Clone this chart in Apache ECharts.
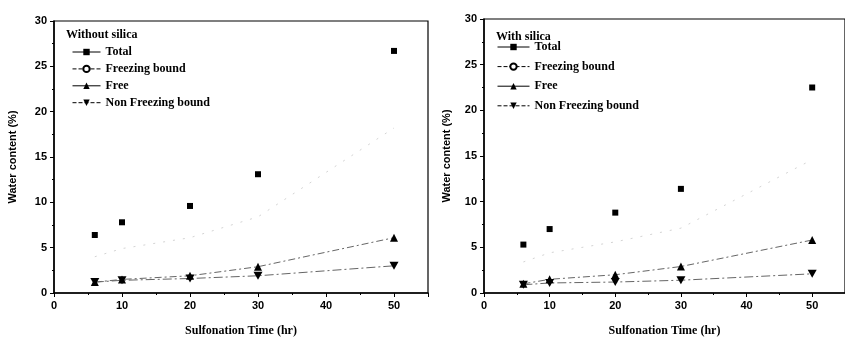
<!DOCTYPE html>
<html>
<head>
<meta charset="utf-8">
<script src="https://cdn.jsdelivr.net/npm/echarts@6/dist/echarts.min.js"></script>
<style>
  html, body { margin: 0; padding: 0; background: #fff; }
  #chart { width: 845px; height: 342px; }
</style>
</head>
<body>
<div id="chart"></div>
<script>
// sulfonation time (hr)
var time = [6, 10, 20, 30, 50];

// without silica, water content (%)
var totalNo = [6.4, 7.8, 9.6, 13.1, 26.7];
var freezingNo = [4.0, 4.9, 6.1, 8.4, 18.2];
var freeNo = [1.2, 1.5, 1.9, 2.9, 6.1];
var nonFreezingNo = [1.2, 1.4, 1.6, 1.9, 3.0];

// with silica
var totalSi = [5.3, 7.0, 8.8, 11.4, 22.5];
var freezingSi = [3.4, 4.4, 5.6, 7.1, 14.6];
var freeSi = [1.0, 1.5, 2.0, 2.9, 5.8];
var nonFreezingSi = [0.9, 1.1, 1.2, 1.4, 2.1];

var downTri = 'path://M0,0 L10,0 L5,9 Z';

function pairs(ys) {
  return time.map(function (t, i) { return [t, ys[i]]; });
}

function xAxis(idx) {
  return {
    gridIndex: idx, type: 'value', min: 0, max: 55, interval: 10,
    name: 'Sulfonation Time (hr)', nameLocation: 'middle', nameGap: 32,
    nameTextStyle: { fontFamily: 'Liberation Serif', fontWeight: 'bold', fontSize: 12, color: '#000' },
    axisLine: { lineStyle: { color: '#000', width: 1.5 } },
    axisTick: { inside: false, length: 4, lineStyle: { color: '#000' } },
    minorTick: { show: true, splitNumber: 2, length: 2, lineStyle: { color: '#000' } },
    splitLine: { show: false },
    axisLabel: { fontFamily: 'Liberation Sans', fontWeight: 'bold', fontSize: 11, color: '#000', margin: 7, showMaxLabel: false }
  };
}

function yAxis(idx, gap) {
  return {
    gridIndex: idx, type: 'value', min: 0, max: 30, interval: 5,
    name: 'Water content (%)', nameLocation: 'middle', nameGap: gap,
    nameTextStyle: { fontFamily: 'Liberation Sans', fontWeight: 'bold', fontSize: 11, color: '#000' },
    axisLine: { lineStyle: { color: '#000', width: 1.5 } },
    axisTick: { inside: false, length: 4, lineStyle: { color: '#000' } },
    minorTick: { show: true, splitNumber: 2, length: 2, lineStyle: { color: '#000' } },
    splitLine: { show: false },
    axisLabel: { fontFamily: 'Liberation Sans', fontWeight: 'bold', fontSize: 11, color: '#000', margin: 7 }
  };
}

function panelSeries(idx, tot, frz, fre, non) {
  return [
    { name: 'Total', type: 'line', xAxisIndex: idx, yAxisIndex: idx, data: pairs(tot),
      symbol: 'rect', symbolSize: 6, itemStyle: { color: '#000' },
      lineStyle: { color: '#000', opacity: 0 } },
    // faded in the scan: circles barely visible, line very light
    { name: 'Freezing bound', type: 'line', xAxisIndex: idx, yAxisIndex: idx, data: pairs(frz),
      symbol: 'emptyCircle', symbolSize: 6, itemStyle: { color: '#000', opacity: 0 },
      lineStyle: { color: '#d4d4d4', width: 1, type: [2, 8], opacity: 1 } },
    { name: 'Free', type: 'line', xAxisIndex: idx, yAxisIndex: idx, data: pairs(fre),
      symbol: 'triangle', symbolSize: 8, itemStyle: { color: '#000' },
      lineStyle: { color: '#666', width: 1, type: [7, 3, 2, 3] } },
    { name: 'Non Freezing bound', type: 'line', xAxisIndex: idx, yAxisIndex: idx, data: pairs(non),
      symbol: downTri, symbolSize: [9, 8], itemStyle: { color: '#000' },
      lineStyle: { color: '#666', width: 1, type: [9, 3, 2, 3] } }
  ];
}

function legendData() {
  return [
    { name: 'Total', lineStyle: { color: '#000', opacity: 1, width: 1 } },
    { name: 'Freezing bound', itemStyle: { opacity: 1 },
      lineStyle: { color: '#000', opacity: 1, width: 1, type: 'dashed' } },
    { name: 'Free', lineStyle: { color: '#000', width: 1, type: 'solid' } },
    { name: 'Non Freezing bound', lineStyle: { color: '#000', width: 1, type: 'dashed' } }
  ];
}

var legendText = { fontFamily: 'Liberation Serif', fontWeight: 'bold', fontSize: 12, color: '#000' };

var option = {
  backgroundColor: '#fff',
  animation: false,
  title: [
    { text: 'Without silica', left: 66, top: 29, padding: 0, textStyle: legendText },
    { text: 'With silica', left: 496, top: 31, padding: 0, textStyle: legendText }
  ],
  legend: [
    { orient: 'vertical', left: 72, top: 46, padding: 0, itemWidth: 28, itemHeight: 8, itemGap: 4.9,
      data: legendData(), textStyle: legendText, selectedMode: false },
    { orient: 'vertical', left: 497, top: 41, padding: 0, itemWidth: 32, itemHeight: 8, itemGap: 7.6,
      data: legendData(), textStyle: legendText, selectedMode: false }
  ],
  grid: [
    { left: 54, top: 21, width: 374, height: 278, show: true, borderColor: '#000', borderWidth: 1.2, backgroundColor: 'transparent' },
    { left: 484, top: 19, width: 370, height: 278, show: true, borderColor: '#000', borderWidth: 1.2, backgroundColor: 'transparent' }
  ],
  xAxis: [xAxis(0), xAxis(1)],
  yAxis: [yAxis(0, 36), yAxis(1, 32)],
  series: panelSeries(0, totalNo, freezingNo, freeNo, nonFreezingNo)
    .concat(panelSeries(1, totalSi, freezingSi, freeSi, nonFreezingSi))
};

var chart = echarts.init(document.getElementById('chart'), null, { renderer: 'canvas' });
chart.setOption(option);
</script>
</body>
</html>
